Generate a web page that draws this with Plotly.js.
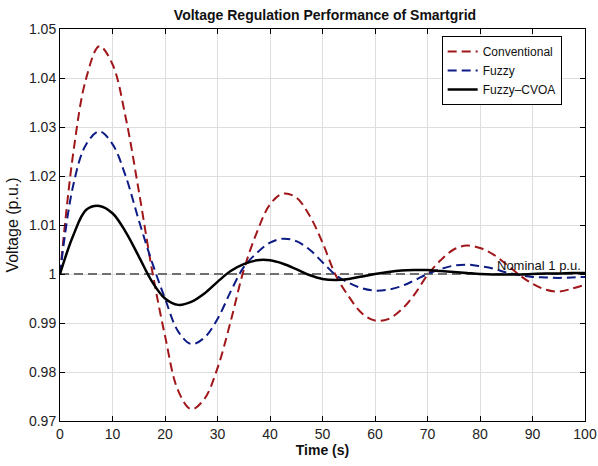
<!DOCTYPE html>
<html>
<head>
<meta charset="utf-8">
<script src="https://cdn.plot.ly/plotly-3.0.1.min.js"></script>
<style>html,body{margin:0;padding:0;background:#fff;}#chart{width:598px;height:466px;}</style>
</head>
<body>
<div id="chart"></div>
<script>
// Time axis (s)
const time = [0,2.5,5,7.5,10,12.5,15,17.5,20,22.5,25,27.5,30,32.5,35,37.5,40,42.5,45,47.5,50,52.5,55,57.5,60,62.5,65,67.5,70,72.5,75,77.5,80,82.5,85,87.5,90,92.5,95,97.5,100];

// Voltage (p.u.) series
const conventional = [1.0000,1.0245,1.0400,1.0465,1.0428,1.0320,1.0170,1.0010,0.9874,0.9762,0.9724,0.9745,0.9808,0.9903,1.0008,1.0085,1.0142,1.0164,1.0156,1.0120,1.0064,0.9998,0.9954,0.9920,0.9905,0.9908,0.9927,0.9958,0.9998,1.0028,1.0050,1.0058,1.0053,1.0040,1.0020,0.9998,0.9980,0.9968,0.9964,0.9970,0.9978];
const fuzzy = [1.0000,1.0180,1.0265,1.0291,1.0265,1.0200,1.0110,1.0025,0.9950,0.9883,0.9857,0.9870,0.9908,0.9964,1.0014,1.0043,1.0064,1.0072,1.0067,1.0050,1.0024,0.9998,0.9982,0.9971,0.9966,0.9968,0.9975,0.9987,1.0000,1.0010,1.0017,1.0019,1.0016,1.0011,1.0003,0.9998,0.9994,0.9993,0.9992,0.9993,0.9994];
const fuzzyCVOA = [1.0000,1.0078,1.0131,1.0139,1.0124,1.0086,1.0036,0.9985,0.9950,0.9937,0.9943,0.9960,0.9984,1.0006,1.0020,1.0028,1.0028,1.0021,1.0010,0.9998,0.9990,0.9988,0.9990,0.9995,1.0000,1.0004,1.0007,1.0008,1.0008,1.0006,1.0004,1.0002,1.0000,0.9999,0.9999,0.9999,1.0000,1.0001,1.0001,1.0002,1.0002];

const nominal = 1;
const seriesNames = ["Conventional","Fuzzy","Fuzzy\u2013CVOA"];

// Tick labels
const xTickVals = [0,10,20,30,40,50,60,70,80,90,100];
const xTickText = ["0","10","20","30","40","50","60","70","80","90","100"];
const yTickVals = [0.97,0.98,0.99,1,1.01,1.02,1.03,1.04,1.05];
const yTickText = ["0.97","0.98","0.99","1","1.01","1.02","1.03","1.04","1.05"];

const FONT = "Liberation Sans, Arial, sans-serif";

const traces = [
  {x:[time[0], time[time.length-1]], y:[nominal, nominal], mode:"lines", showlegend:false, hoverinfo:"skip",
   line:{color:"#707070", width:2, dash:"9px,5px"}},
  {x:time, y:conventional, name:seriesNames[0], mode:"lines",
   line:{color:"#a01619", width:2, dash:"9px,5px", shape:"spline", smoothing:1}},
  {x:time, y:fuzzy, name:seriesNames[1], mode:"lines",
   line:{color:"#0d1b85", width:2, dash:"9px,5px", shape:"spline", smoothing:1}},
  {x:time, y:fuzzyCVOA, name:seriesNames[2], mode:"lines",
   line:{color:"#000000", width:2.5, shape:"spline", smoothing:1}}
];

const axisCommon = {
  showline:true, linecolor:"#000", linewidth:1, mirror:"ticks",
  ticks:"inside", ticklen:5, tickcolor:"#000", tickwidth:1,
  showgrid:true, gridcolor:"#dedede", gridwidth:1, zeroline:false,
  ticklabeloverflow:"allow",
  tickfont:{family:FONT, size:14, color:"#222"}
};

const layout = {
  width:598, height:466,
  margin:{l:60, r:13, t:29, b:45},
  paper_bgcolor:"#fff", plot_bgcolor:"#fff",
  title:{text:"<b>Voltage Regulation Performance of Smartgrid</b>", font:{family:FONT, size:14, color:"#111"},
         x:0.5435, xanchor:"center", y:0.967, yanchor:"middle", yref:"container"},
  xaxis:Object.assign({}, axisCommon, {range:[0,100], tickmode:"array", tickvals:xTickVals, ticktext:xTickText, automargin:false,
         title:{text:"<b>Time (s)</b>", font:{family:FONT, size:14, color:"#111"}, standoff:3}}),
  yaxis:Object.assign({}, axisCommon, {range:[0.97,1.05], tickmode:"array", tickvals:yTickVals, ticktext:yTickText, automargin:false,
         title:{text:"Voltage (p.u.)", font:{family:FONT, size:16, color:"#111"}, standoff:6}}),
  legend:{x:0.727, y:0.982, xanchor:"left", yanchor:"top", bgcolor:"#fff", bordercolor:"#000", borderwidth:1,
          font:{family:FONT, size:12, color:"#111"}, tracegroupgap:0, itemwidth:30},
  annotations:[{x:100, y:nominal, xref:"x", yref:"y", text:"Nominal 1 p.u.", showarrow:false,
                xanchor:"right", yanchor:"bottom", yshift:-1, xshift:-2, font:{family:FONT, size:13, color:"#111"}}],
  showlegend:true
};

Plotly.newPlot("chart", traces, layout, {displayModeBar:false, staticPlot:true});
</script>
</body>
</html>
